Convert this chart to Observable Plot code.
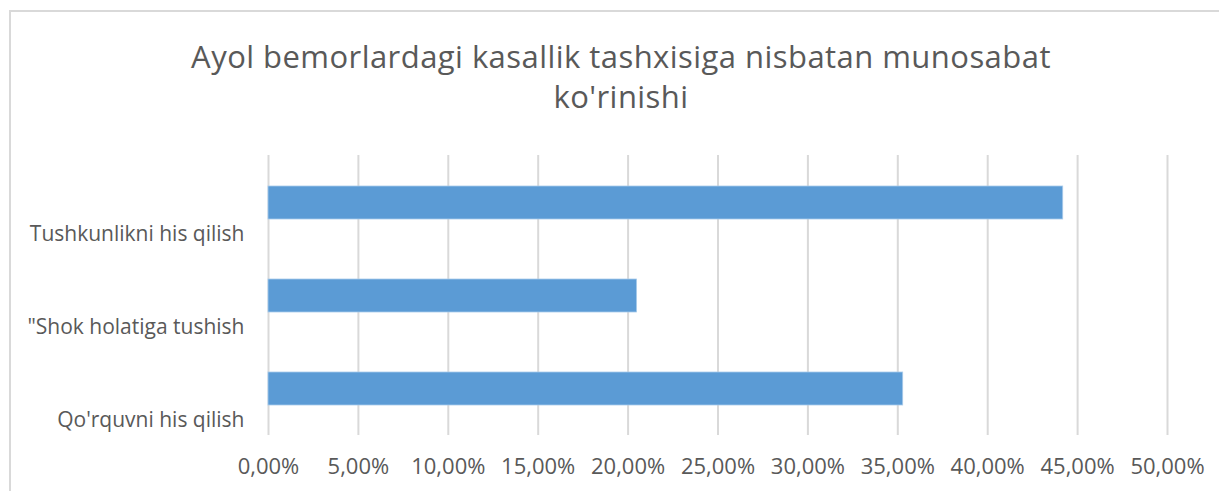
<!DOCTYPE html>
<html>
<head>
<meta charset="utf-8">
<script src="https://cdn.jsdelivr.net/npm/d3@7"></script>
<script src="https://cdn.jsdelivr.net/npm/@observablehq/plot@0.6"></script>
<style>
  html, body { margin: 0; padding: 0; background: #fff; }
  #wrap { position: relative; width: 1219px; height: 491px; overflow: hidden; background: #fff; }
  #border { position: absolute; left: 9px; top: 10px; width: 1300px; height: 600px;
            border-left: 2px solid #D9D9D9; border-top: 2px solid #D9D9D9; pointer-events: none; }
  #title { height: 140px; box-sizing: border-box; padding-top: 36px; padding-left: 23px;
           text-align: center; font-family: "Open Sans", sans-serif; font-size: 31px;
           letter-spacing: 0.45px; line-height: 40px; color: #595959; font-weight: 400; }
  #chart svg { display: block; }
</style>
</head>
<body>
<div id="wrap">
  <div id="title">Ayol bemorlardagi kasallik tashxisiga nisbatan munosabat<br>ko'rinishi</div>
  <div id="chart"></div>
  <div id="border"></div>
</div>
<script>
const categories = ["Tushkunlikni his qilish", "\"Shok holatiga tushish", "Qo'rquvni his qilish"];
const values = [0.442, 0.205, 0.353];
const xTicks = [0, 0.05, 0.10, 0.15, 0.20, 0.25, 0.30, 0.35, 0.40, 0.45, 0.50];

const data = categories.map((c, i) => ({category: c, value: values[i]}));
const fmt = d => d3.format(".2%")(d).replace(".", ",");

const chart = Plot.plot({
  width: 1219,
  height: 351,
  marginTop: 15,
  marginBottom: 56,
  marginLeft: 268,
  marginRight: 52,
  style: {fontFamily: "'Open Sans', sans-serif", fontSize: "21px", color: "#595959", background: "white", overflow: "visible"},
  x: {domain: [0, 0.5], label: null},
  y: {domain: categories, padding: 0, label: null},
  marks: [
    Plot.gridX(xTicks, {stroke: "#D9D9D9", strokeOpacity: 1, strokeWidth: 2}),
    Plot.barX(data, {x: "value", y: "category", fill: "#5B9BD5", stroke: "#A9CBEA", strokeWidth: 0.8, insetTop: 30, insetBottom: 30}),
    Plot.axisX({ticks: xTicks, tickFormat: fmt, tickSize: 0, tickPadding: 23, fontSize: 22, label: null}),
    Plot.axisY({tickSize: 0, tickPadding: 24, dy: 31, label: null})
  ]
});
document.getElementById("chart").appendChild(chart);
</script>
</body>
</html>
